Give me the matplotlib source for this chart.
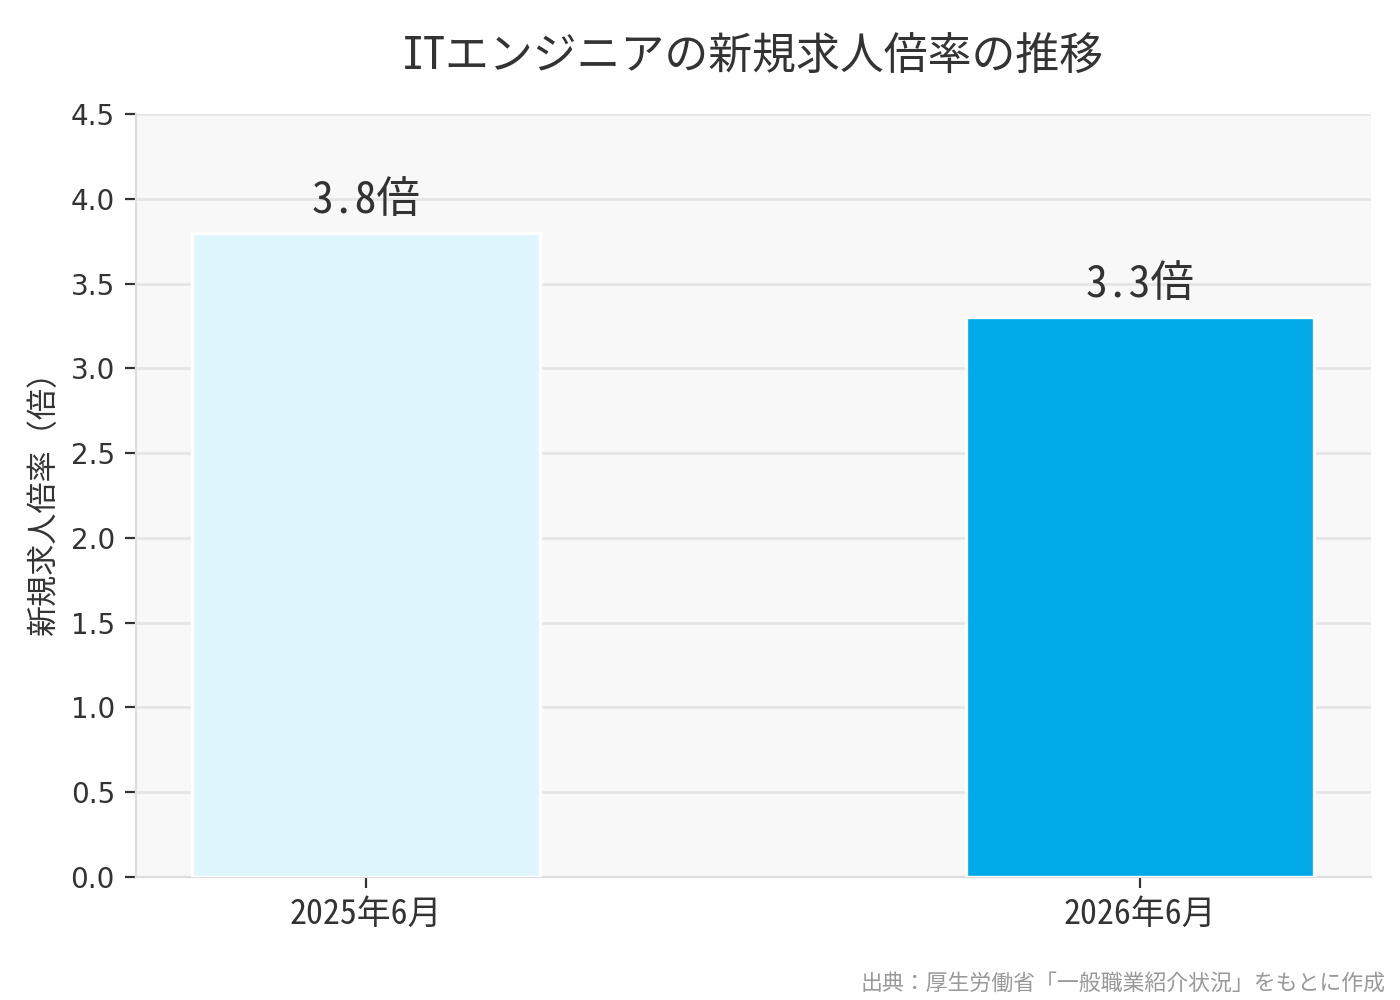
import os
import matplotlib
matplotlib.use('agg')
import matplotlib.pyplot as plt
from matplotlib import font_manager

# data
periods = ['2025年6月', '2026年6月']
ratios = [3.8, 3.3]
bar_colors = ['#E0F6FE', '#00AAE8']
value_labels = ['3.8倍', '3.3倍']
yticks = [0.0, 0.5, 1.0, 1.5, 2.0, 2.5, 3.0, 3.5, 4.0, 4.5]


def mono_cjk():
    # pull the mono JP face out of the Noto CJK collection
    try:
        from fontTools.ttLib import TTCollection
        src = '/usr/share/fonts/opentype/noto/NotoSansCJK-Regular.ttc'
        coll = TTCollection(src, lazy=True)
        for face in coll.fonts:
            name = face['name'].getDebugName(1)
            if name == 'Noto Sans Mono CJK JP':
                out = os.path.abspath('NotoSansMonoCJKjp.otf')
                face.save(out)
                font_manager.fontManager.addfont(out)
                return font_manager.FontProperties(fname=out).get_name()
    except Exception:
        pass
    return 'Noto Sans CJK JP'


mono = mono_cjk()
jp = [mono, 'DejaVu Sans']
textcol = '#333333'

plt.rcParams['font.family'] = ['DejaVu Sans', mono]

fig, ax = plt.subplots(figsize=(7, 5), dpi=200)
ax.set_facecolor('#F8F8F8')

x = list(range(len(periods)))
bars = ax.bar(x, ratios, width=0.45, color=bar_colors, edgecolor='white',
              linewidth=1.2, zorder=3)

for b, lab in zip(bars, value_labels):
    ax.text(b.get_x() + b.get_width() / 2, b.get_height() + 0.065, lab,
            ha='center', va='bottom', fontsize=15.7, color=textcol,
            family=jp, zorder=4)

ax.set_ylim(0, 4.5)
ax.set_yticks(yticks)
ax.set_yticklabels(['{:.1f}'.format(v) for v in yticks], family='DejaVu Sans')
ax.set_xticks(x)
ax.set_xticklabels(periods, family=jp, fontsize=12.2, color=textcol)
ax.tick_params(axis='y', labelsize=10, colors=textcol, length=4)
ax.tick_params(axis='x', length=4, colors=textcol)

ax.yaxis.grid(True, color='#E5E5E5', linewidth=1.0, zorder=0)
ax.set_axisbelow(True)

for s in ['top', 'right']:
    ax.spines[s].set_visible(False)
for s in ['left', 'bottom']:
    ax.spines[s].set_color('#DDDDDD')
    ax.spines[s].set_linewidth(0.8)

ax.set_ylabel('新規求人倍率（倍）', family=jp, fontsize=11.2, color=textcol)
ax.set_title('ITエンジニアの新規求人倍率の推移', family=jp, fontsize=15.8,
             color=textcol, pad=16)

fig.text(0.99, 0.004, '出典：厚生労働省「一般職業紹介状況」をもとに作成',
         ha='right', va='bottom', fontsize=7.9, color='#999999', family=jp)

fig.subplots_adjust(left=0.097, right=0.979, top=0.886, bottom=0.123)
fig.savefig('out.png', dpi=200)
plt.close('all')
